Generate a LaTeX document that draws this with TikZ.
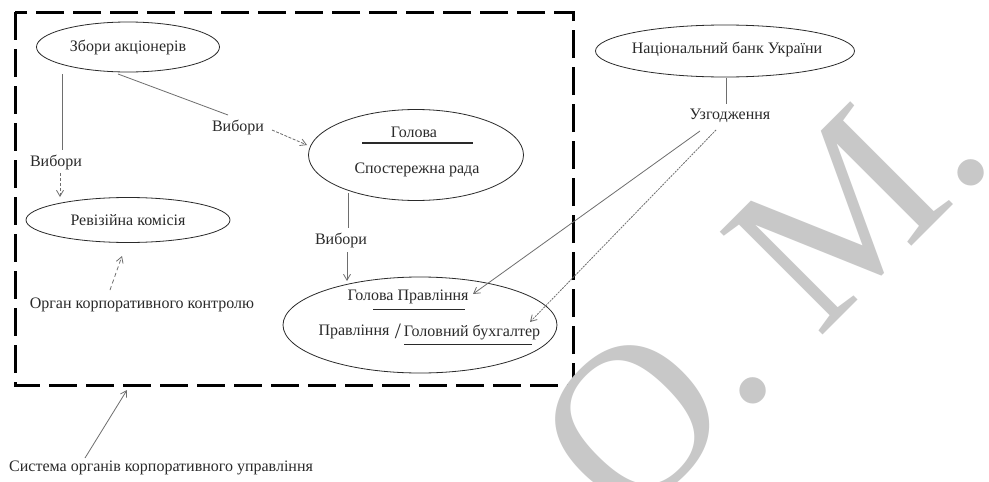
\documentclass[tikz,border=0pt]{standalone}
\usepackage{fontspec}
\setmainfont{Liberation Serif}
\usetikzlibrary{shapes.geometric,arrows.meta}

\definecolor{ink}{HTML}{2A2A2A}
\definecolor{wire}{HTML}{6E6E6E}
\definecolor{mark}{HTML}{C8C8C8}

\tikzset{
  organ/.style={ellipse, draw=ink, line width=0.8pt, inner sep=0pt},
  lbl/.style={inner sep=1pt, text=ink, font=\fontsize{16}{18}\selectfont},
  conn/.style={draw=wire, line width=0.8pt},
  link/.style={conn, -{Straight Barb[length=6pt,width=7pt]}},
  frame/.style={draw=black, line width=3pt, dash pattern=on 28pt off 9pt},
}

\begin{document}
\begin{tikzpicture}[x=1pt, y=-1pt]
\clip (0,0) rectangle (989,482);
\fill[white] (0,0) rectangle (989,482);

% boundary of the corporate governance system
\draw[frame] (15,12) rectangle (573,385);

% governing bodies
\node[organ, minimum width=183pt, minimum height=50pt] (meeting) at (128,47) {};
\node[lbl] (meetingtxt) at (128,47) {Збори акціонерів};

\node[organ, minimum width=204pt, minimum height=45pt] (audit) at (128,220) {};
\node[lbl] (audittxt) at (128,220) {Ревізійна комісія};

\node[organ, minimum width=215pt, minimum height=91pt] (board) at (416,155) {};
\node[lbl] (boardhead) at (414,132) {Голова};
\node[lbl] (boardtxt) at (417,170) {Спостережна рада};
\draw[ink, line width=1.4pt] (362,143) -- (473,143);

\node[organ, minimum width=274pt, minimum height=96pt] (mgmt) at (420,325) {};
\node[lbl] (mgmthead) at (408,297) {Голова Правління};
\draw[ink, line width=0.9pt] (373,309) -- (465,309);
\node[lbl] (mgmttxt) at (354,332) {Правління};
\node[lbl, font=\fontsize{22}{22}\selectfont] (slash) at (398,331) {/};
\node[lbl] (account) at (472,332) {Головний бухгалтер};
\draw[ink, line width=0.9pt] (404,344) -- (532,344);

\node[organ, minimum width=259pt, minimum height=52pt] (nbu) at (725,51) {};
\node[lbl] (nbutxt) at (727,49) {Національний банк України};

% relation labels
\node[lbl] (elect1) at (56,162) {Вибори};
\node[lbl] (elect2) at (238,127) {Вибори};
\node[lbl] (elect3) at (341,240) {Вибори};
\node[lbl] (agree) at (730,116) {Узгодження};
\node[lbl] (control) at (142,305) {Орган корпоративного контролю};
\node[lbl, anchor=west] (system) at (8,468) {Система органів корпоративного управління};

% free ends of the connectors
\coordinate (m1) at (62,74);
\coordinate (e1a) at (62,150);
\coordinate (e1b) at (60,173);
\coordinate (a1) at (60,197);
\coordinate (m2) at (118,74);
\coordinate (e2a) at (228,115);
\coordinate (e2b) at (272,130);
\coordinate (b1) at (307,145);
\coordinate (b2) at (348,193);
\coordinate (e3a) at (348,228);
\coordinate (e3b) at (347,252);
\coordinate (g1) at (347,281);
\coordinate (c1) at (110,290);
\coordinate (a2) at (122,256);
\coordinate (n1) at (726,78);
\coordinate (ag1) at (726,104);
\coordinate (ag2) at (700,131);
\coordinate (g2) at (473,294);
\coordinate (ag3) at (716,130);
\coordinate (g3) at (530,322);
\coordinate (s1) at (85,458);
\coordinate (f1) at (127,390);

% connectors
\draw[conn] (m1) -- (e1a);
\draw[link, dash pattern=on 3pt off 2pt] (e1b) -- (a1);
\draw[conn] (m2) -- (e2a);
\draw[link, dash pattern=on 3pt off 1.5pt] (e2b) -- (b1);
\draw[conn] (b2) -- (e3a);
\draw[link] (e3b) -- (g1);
\draw[link, dash pattern=on 4pt off 3pt] (c1) -- (a2);
\draw[conn] (n1) -- (ag1);
\draw[link] (ag2) -- (g2);
\draw[link, dash pattern=on 2pt off 1pt] (ag3) -- (g3);
\draw[link] (s1) -- (f1);

% author's mark
\node[text=mark, inner sep=0pt, anchor=base west, rotate=45,
      font=\fontsize{222}{222}\selectfont] (initials) at (627,531) {O. M.};
\end{tikzpicture}
\end{document}
